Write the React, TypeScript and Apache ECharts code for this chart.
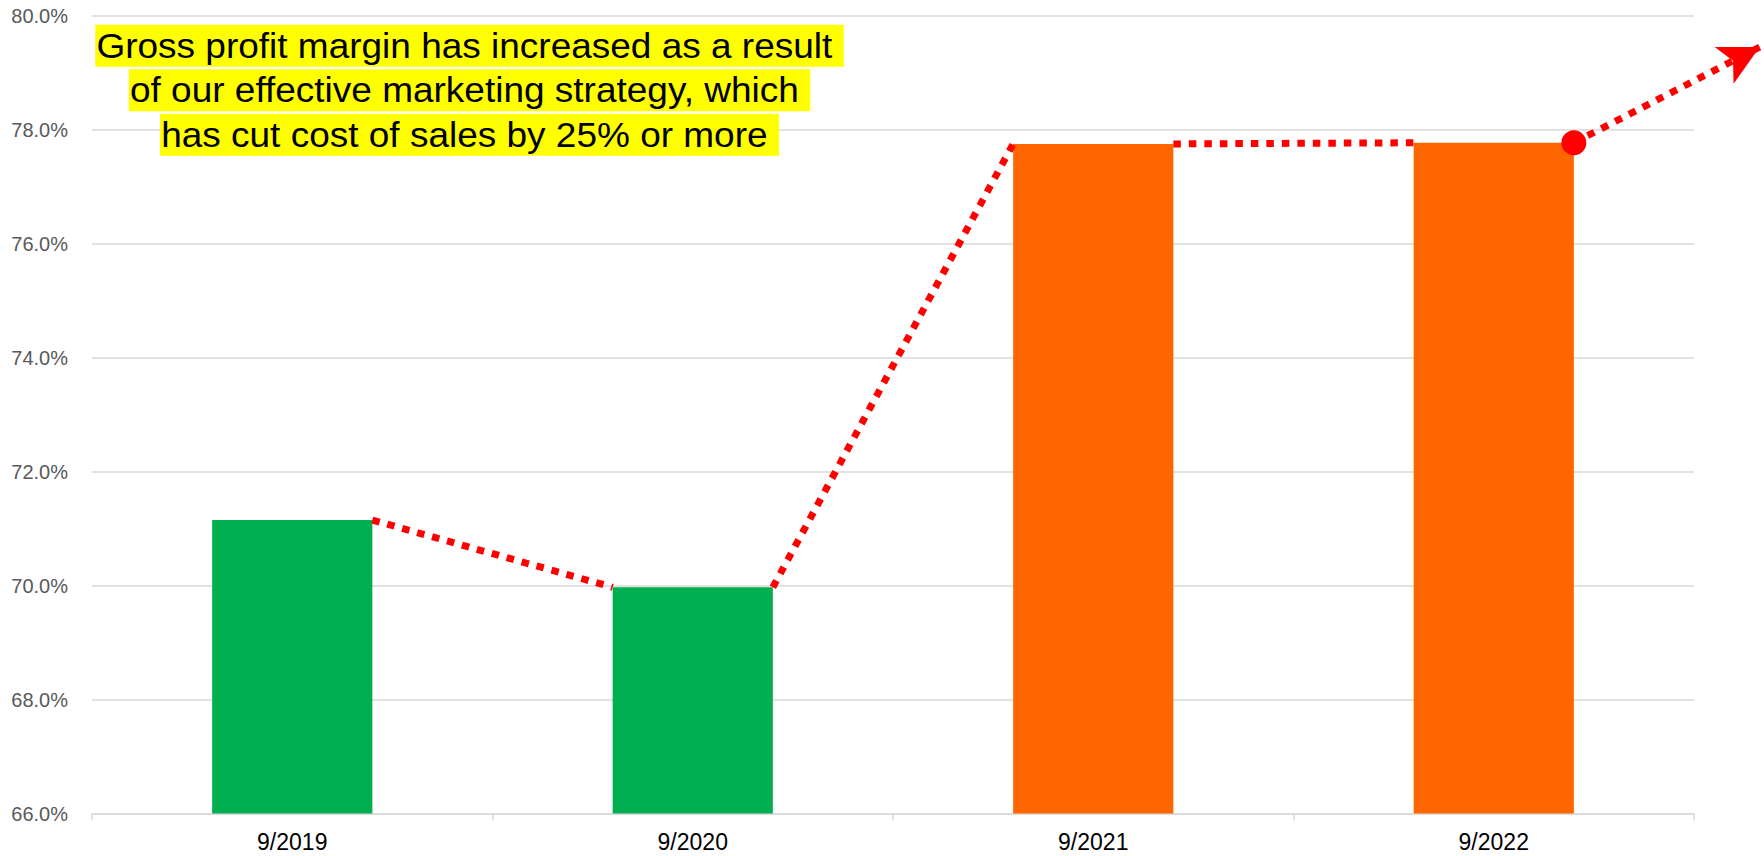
import React, { useEffect, useRef } from "react";
import * as echarts from "echarts";

// ---- data ----
const categories = ["9/2019", "9/2020", "9/2021", "9/2022"];
const grossMargin = [71.15, 69.97, 77.75, 77.77];
const barColors = ["#00B050", "#00B050", "#FF6600", "#FF6600"];
const yMin = 66;
const yMax = 80;
const yInterval = 2;
// estimated trend projection (arrow tip) in overlay x units / percent
const trendArrowX = 4.164;
const trendArrowValue = 79.45;
const annotationLines = [
  "Gross profit margin has increased as a result ",
  "of our effective marketing strategy, which ",
  "has cut cost of sales by 25% or more ",
];

// ---- layout ----
const W = 1764;
const H = 856;
const plotLeft = 92;
const plotRight = 1694;
const plotTop = 15.7;
const plotBottom = 813.5;
const barHalf = 0.2; // bar width 40% of a category band
const catW = (plotRight - plotLeft) / categories.length;
const overlayMax = (W - plotLeft) / catW;

const FONT = 'Arial, "Liberation Sans", sans-serif';
const RED = "#FF0000";
const dotted = { color: RED, width: 7, type: [7.5, 8] as any, cap: "butt" as any };

export default function App() {
  const ref = useRef<HTMLDivElement>(null);

  useEffect(() => {
    document.body.style.margin = "0";
    if (!ref.current) return;
    const chart = echarts.init(ref.current, undefined, { renderer: "svg" });

    const connectors: any[] = [];
    for (let i = 0; i < grossMargin.length - 1; i++) {
      connectors.push({
        type: "line",
        xAxisIndex: 1,
        yAxisIndex: 1,
        symbol: "none",
        silent: true,
        z: 5,
        lineStyle: dotted,
        data: [
          [i + 0.5 + barHalf, grossMargin[i]],
          [i + 1.5 - barHalf, grossMargin[i + 1]],
        ],
      });
    }
    const last = grossMargin.length - 1;
    const lastX = last + 0.5 + barHalf;

    const option: any = {
      animation: false,
      grid: [
        { left: plotLeft, right: W - plotRight, top: plotTop, bottom: H - plotBottom },
        { left: plotLeft, right: 0, top: plotTop, bottom: H - plotBottom },
      ],
      xAxis: [
        {
          type: "category",
          gridIndex: 0,
          data: categories,
          axisLine: { show: true, lineStyle: { color: "#D9D9D9", width: 1.5 } },
          axisTick: { show: true, length: 7, lineStyle: { color: "#D9D9D9", width: 1.5 } },
          axisLabel: { color: "#000000", fontSize: 23, fontFamily: FONT, margin: 17 },
        },
        { type: "value", gridIndex: 1, min: 0, max: overlayMax, show: false },
      ],
      yAxis: [
        {
          type: "value",
          gridIndex: 0,
          min: yMin,
          max: yMax,
          interval: yInterval,
          axisLine: { show: false },
          axisTick: { show: false },
          splitLine: { lineStyle: { color: "#D9D9D9", width: 1.5 } },
          axisLabel: {
            color: "#595959",
            fontSize: 20,
            fontFamily: FONT,
            margin: 24,
            formatter: (v: number) => v.toFixed(1) + "%",
          },
        },
        { type: "value", gridIndex: 1, min: yMin, max: yMax, show: false },
      ],
      series: [
        {
          type: "bar",
          xAxisIndex: 0,
          yAxisIndex: 0,
          barWidth: "40%",
          silent: true,
          z: 2,
          data: grossMargin.map((v, i) => ({ value: v, itemStyle: { color: barColors[i] } })),
        },
        ...connectors,
        {
          type: "line",
          xAxisIndex: 1,
          yAxisIndex: 1,
          symbol: "none",
          silent: true,
          clip: false,
          z: 6,
          lineStyle: { width: 0 },
          data: [[lastX, grossMargin[last]]],
          markLine: {
            silent: true,
            animation: false,
            label: { show: false },
            emphasis: { disabled: true },
            itemStyle: { color: RED },
            lineStyle: dotted,
            data: [
              [
                { coord: [lastX, grossMargin[last]], symbol: "circle", symbolSize: 25 },
                { coord: [trendArrowX, trendArrowValue], symbol: "arrow", symbolSize: [31, 40] },
              ],
            ],
          },
        },
      ],
      graphic: annotationLines.map((t, i) => ({
        type: "text",
        x: 469.5,
        y: 45.8 + i * 44.5,
        scaleX: 1.057,
        z: 100,
        silent: true,
        style: {
          text: t,
          font: `35px ${FONT}`,
          fill: "#000000",
          align: "center",
          verticalAlign: "middle",
          backgroundColor: "#FFFF00",
          lineHeight: 42,
          padding: [0, 1],
        },
      })),
    };

    chart.setOption(option);
    return () => chart.dispose();
  }, []);

  return <div ref={ref} style={{ width: W, height: H }} />;
}
